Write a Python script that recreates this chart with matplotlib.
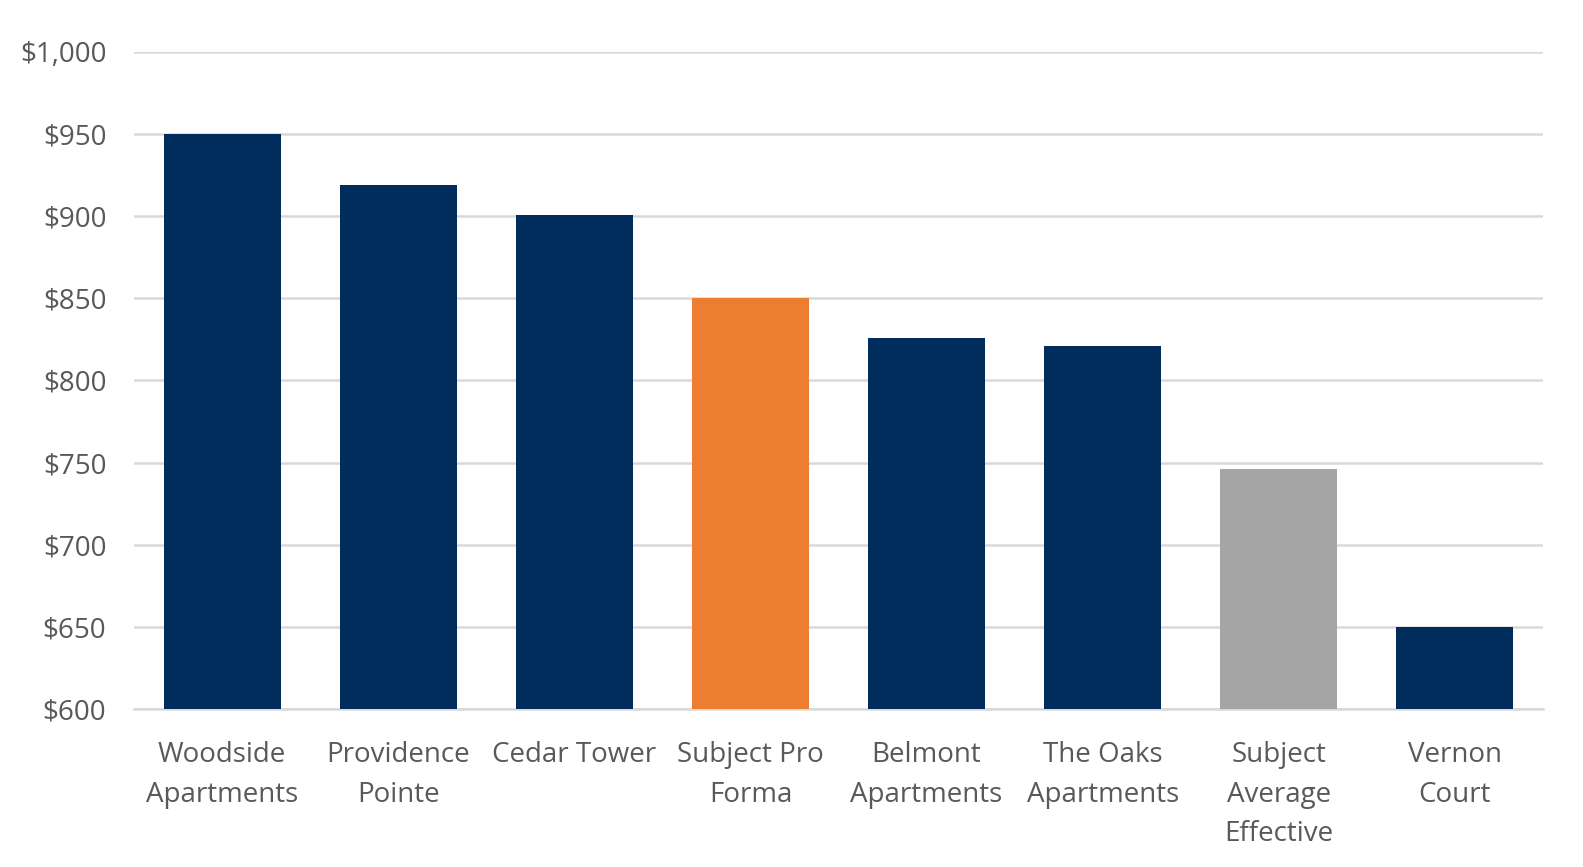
import matplotlib
matplotlib.use("Agg")
import matplotlib.pyplot as plt
from matplotlib.ticker import FuncFormatter

# rent comparison data
names = ["Woodside\nApartments", "Providence\nPointe", "Cedar Tower",
         "Subject Pro\nForma", "Belmont\nApartments", "The Oaks\nApartments",
         "Subject\nAverage\nEffective", "Vernon\nCourt"]
rents = [950, 919, 901, 850, 826, 821, 746, 650]
kinds = ["comp", "comp", "comp", "proforma", "comp", "comp", "effective", "comp"]

colour_for = {"comp": "#002D5C", "proforma": "#ED7D31", "effective": "#A5A5A5"}

plt.rcParams['font.family'] = ['Open Sans', 'DejaVu Sans']

fig = plt.figure(figsize=(15.83, 8.67), dpi=100)
ax = fig.add_axes([0.0847, 0.1822, 0.89, 0.758])

x = range(len(names))
ax.bar(x, [r - 600 for r in rents], bottom=600, width=0.665,
       color=[colour_for[k] for k in kinds], zorder=3)

ax.set_ylim(600, 1000)
ax.set_xlim(-0.5, len(names) - 0.5)
ax.set_yticks(range(600, 1001, 50))
ax.yaxis.set_major_formatter(FuncFormatter(lambda v, p: "${:,.0f}".format(v)))
ax.grid(axis="y", color="#D9D9D9", linewidth=1.8, zorder=0)
ax.set_xticks(list(x))
ax.set_xticklabels(names, linespacing=1.55)

for s in ["top", "right", "left"]:
    ax.spines[s].set_visible(False)
ax.spines["bottom"].set_color("#D9D9D9")
ax.spines["bottom"].set_linewidth(1.8)
ax.tick_params(axis="both", length=0, labelsize=20, colors="#595959")
ax.tick_params(axis="y", pad=20)
ax.tick_params(axis="x", pad=23)

fig.savefig("out.png", dpi=100)
